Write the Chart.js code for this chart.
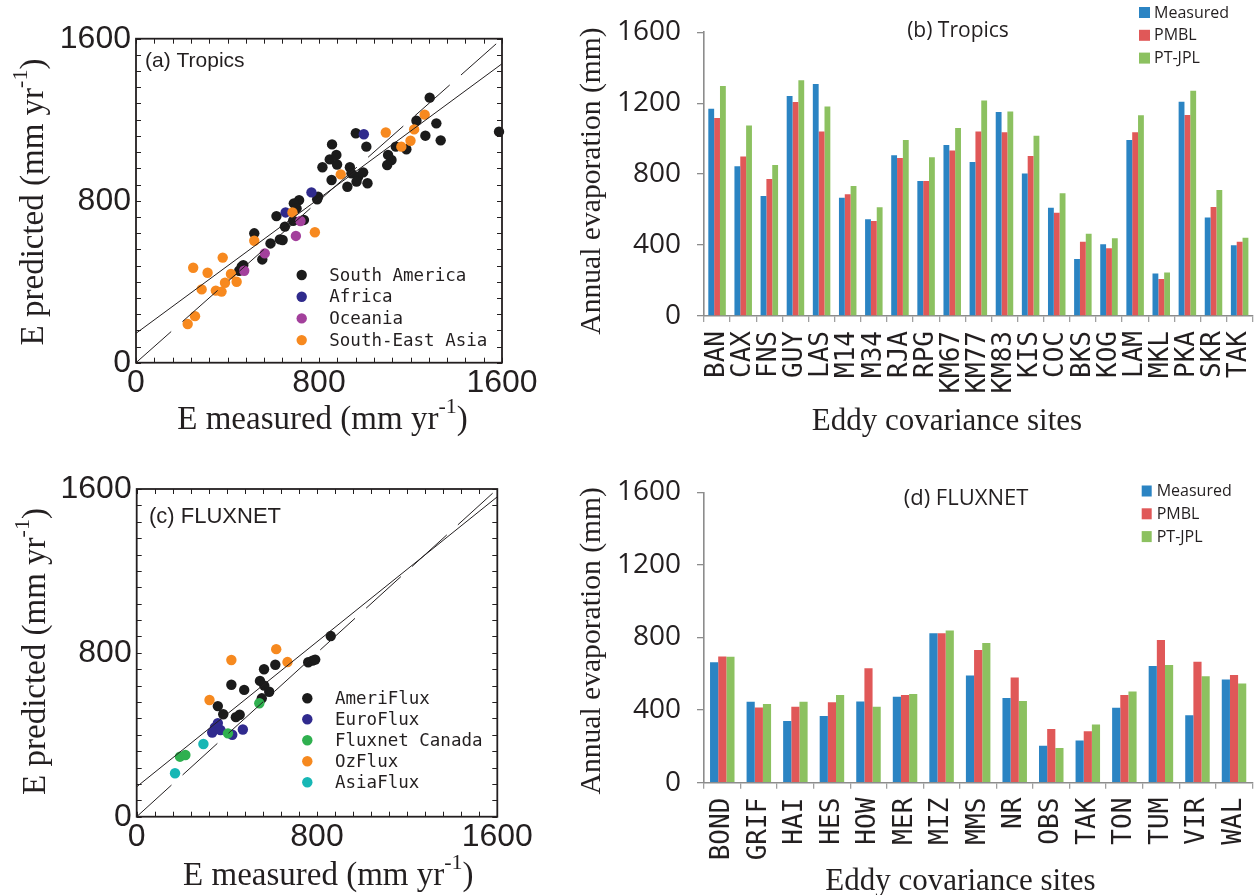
<!DOCTYPE html>
<html>
<head>
<meta charset="utf-8">
<title>Evaporation: measured vs predicted</title>
<script src="https://cdn.jsdelivr.net/npm/chart.js@4.4.1/dist/chart.umd.min.js"></script>
<style>
  html, body { margin: 0; padding: 0; background: #ffffff; }
  #wrap { position: relative; width: 1259px; height: 895px; overflow: hidden; }
  #wrap canvas { position: absolute; }
</style>
</head>
<body>
<div id="wrap">
  <canvas id="panelA" width="560" height="450" style="left:0px;top:0px"></canvas>
  <canvas id="panelB" width="699" height="450" style="left:560px;top:0px"></canvas>
  <canvas id="panelC" width="560" height="445" style="left:0px;top:450px"></canvas>
  <canvas id="panelD" width="699" height="445" style="left:560px;top:450px"></canvas>
</div>
<script>
// ---------- (a) Tropics: [E measured, E predicted] in mm/yr ----------
const southAmerica = [
  [1284,1309],[1226,1195],[1313,1182],[1265,1121],[1332,1098],[1587,1141],[961,1133],
  [1007,1067],[857,1078],[847,1004],[876,1026],[879,979],[815,965],[855,902],[935,965],
  [942,935],[971,918],[993,940],[964,894],[924,869],[1012,886],[1102,1026],[1117,1001],
  [1098,976],[1136,1067],[1182,1054],[796,820],[792,807],[713,803],[690,787],[702,762],
  [614,724],[651,672],[687,701],[734,705],[517,639],[588,589],[629,609],[641,606],
  [552,510],[469,482],[462,474],[451,454]
];
const africa = [[996,1128],[767,841],[654,742]];
const oceania = [[719,700],[699,626],[563,540],[473,454]];
const southEastAsia = [
  [1262,1225],[1216,1152],[1200,1096],[1160,1067],[1092,1137],[895,930],[684,742],
  [782,644],[517,602],[379,519],[250,469],[313,444],[415,438],[440,400],[389,395],
  [287,362],[349,356],[374,351],[258,230],[226,191]
];
const tropicsFitIntercept = 145;
const tropicsFitSlope = 0.832;

// ---------- (c) FLUXNET: [E measured, E predicted] in mm/yr ----------
const ameriFlux = [
  [861,882],[761,754],[780,762],[792,767],[615,742],[565,720],[547,663],[566,640],
  [588,610],[555,578],[420,644],[477,619],[360,540],[384,500],[440,486],[457,498]
];
const euroFlux = [[360,457],[347,436],[335,411],[372,423],[424,400],[471,426]];
const fluxnetCanada = [[544,554],[405,407],[192,293],[216,301]];
const ozFlux = [[619,818],[669,755],[420,765],[323,570]];
const asiaFlux = [[296,355],[170,212]];
const fluxnetFitIntercept = 146;
const fluxnetFitSlope = 0.885;

// ---------- (b) Tropics: annual evaporation per site (mm) ----------
const tropicsSites = ['BAN','CAX','FNS','GUY','LAS','M14','M34','RJA','RPG','KM67','KM77',
  'KM83','KIS','COC','BKS','KOG','LAM','MKL','PKA','SKR','TAK'];
const tropicsMeasured = [1169,844,677,1241,1308,667,545,906,761,964,869,1150,803,611,321,404,993,239,1209,556,399];
const tropicsPMBL     = [1117,900,773,1207,1040,686,536,891,761,934,1041,1036,902,583,419,382,1036,209,1134,615,419];
const tropicsPTJPL    = [1297,1075,852,1329,1181,733,613,993,895,1060,1216,1154,1017,692,464,438,1132,246,1271,711,442];

// ---------- (d) FLUXNET: annual evaporation per site (mm) ----------
const fluxnetSites = ['BOND','GRIF','HAI','HES','HOW','MER','MIZ','MMS','NR','OBS','TAK','TON','TUM','VIR','WAL'];
const fluxnetMeasured = [663,446,340,367,448,474,823,590,467,204,233,413,643,371,569];
const fluxnetPMBL     = [696,415,419,443,630,483,823,731,580,296,283,483,786,667,593];
const fluxnetPTJPL    = [694,434,446,483,419,489,839,770,450,191,321,503,648,586,547];

const seriesNames = ['Measured', 'PMBL', 'PT-JPL'];
const axisMax = 1600;

// ---------- styling ----------
const SERIF = '"Liberation Serif", "Times New Roman", serif';
const SANS = '"Liberation Sans", Arial, sans-serif';
const OPEN = '"Open Sans", "Noto Sans", sans-serif';
const MONO = '"DejaVu Sans Mono", monospace';
const INK = '#231f20';
const AXIS_GREY = '#8c8c8c';
const BAR_COLORS = ['#2b84c3', '#e05858', '#8cc160'];

Chart.defaults.animation = false;
Chart.defaults.events = [];
Chart.defaults.devicePixelRatio = 1;

const toPoints = arr => arr.map(([x, y]) => ({ x, y }));
const plainNumber = v => String(v);

// text helper: optional superscript part followed by a tail, optionally rotated
function drawText(ctx, t) {
  ctx.save();
  ctx.translate(t.x, t.y);
  if (t.rotate) ctx.rotate(-Math.PI / 2);
  ctx.fillStyle = t.color || INK;
  ctx.textBaseline = t.baseline || 'alphabetic';
  ctx.textAlign = 'left';
  const main = `${t.size}px ${t.family}`;
  const supFont = `${Math.round(t.size * 0.66)}px ${t.family}`;
  ctx.font = main;
  const w1 = ctx.measureText(t.text).width;
  let w2 = 0, w3 = 0;
  if (t.sup) {
    ctx.font = supFont; w2 = ctx.measureText(t.sup).width;
    ctx.font = main; w3 = ctx.measureText(t.tail || '').width;
  }
  const total = w1 + w2 + w3;
  let x = t.align === 'left' ? 0 : -total / 2;
  ctx.font = main;
  ctx.fillText(t.text, x, 0);
  x += w1;
  if (t.sup) {
    ctx.font = supFont;
    ctx.fillText(t.sup, x, -t.size * 0.48);
    x += w2;
    ctx.font = main;
    ctx.fillText(t.tail || '', x, 0);
  }
  ctx.restore();
}

// frame with inward minor ticks, in-plot legends and titles
const decor = {
  id: 'decor',
  afterDraw(chart, args, o) {
    const ctx = chart.ctx;
    const a = chart.chartArea;
    if (o.frame) {
      const xs = chart.scales.x, ys = chart.scales.y;
      ctx.save();
      ctx.strokeStyle = INK;
      ctx.lineWidth = 1;
      ctx.beginPath();
      for (let v = 0; v <= axisMax; v += o.frame.minorStep) {
        const px = Math.round(xs.getPixelForValue(v)) + 0.5;
        const py = Math.round(ys.getPixelForValue(v)) + 0.5;
        ctx.moveTo(px, a.bottom); ctx.lineTo(px, a.bottom - o.frame.len);
        ctx.moveTo(px, a.top); ctx.lineTo(px, a.top + o.frame.len);
        ctx.moveTo(a.left, py); ctx.lineTo(a.left + o.frame.len, py);
        ctx.moveTo(a.right, py); ctx.lineTo(a.right - o.frame.len, py);
      }
      ctx.stroke();
      ctx.lineWidth = 1.8;
      ctx.strokeRect(a.left, a.top, a.right - a.left, a.bottom - a.top);
      ctx.restore();
    }
    if (o.legend) {
      const L = o.legend;
      ctx.save();
      L.items.forEach((it, i) => {
        const cy = L.y + i * L.step;
        ctx.fillStyle = it.color;
        if (L.marker === 'circle') {
          ctx.beginPath();
          ctx.arc(L.x, cy, L.r, 0, Math.PI * 2);
          ctx.fill();
        } else {
          ctx.fillRect(L.x, cy - L.h / 2, L.w, L.h);
        }
        ctx.fillStyle = INK;
        ctx.font = `${L.size}px ${L.family}`;
        ctx.textBaseline = 'middle';
        ctx.textAlign = 'left';
        ctx.fillText(it.label, L.textX, cy + (L.dy || 0));
      });
      ctx.restore();
    }
    (o.texts || []).forEach(t => drawText(ctx, t));
  }
};

function fixedBox(size, dim) {
  return s => {
    s[dim] = size;
    s.paddingLeft = 0; s.paddingRight = 0;
    s.paddingTop = 0; s.paddingBottom = 0;
  };
}

function scatterChart(id, groups, fit, geom, extras) {
  const pointSets = groups.map(g => ({
    label: g.label,
    data: toPoints(g.data),
    backgroundColor: g.color,
    borderColor: g.color,
    pointRadius: 5.2,
    pointBorderWidth: 0,
    showLine: false,
    clip: false
  }));
  // first dataset is painted last, so lines go first and the later groups lie over earlier ones
  const lines = [
    {
      label: 'fit',
      data: [{ x: 0, y: fit.intercept }, { x: axisMax, y: fit.intercept + fit.slope * axisMax }],
      showLine: true, pointRadius: 0, borderColor: INK, borderWidth: 1, fill: false
    },
    {
      label: '1:1',
      data: [{ x: 0, y: 0 }, { x: axisMax, y: axisMax }],
      showLine: true, pointRadius: 0, borderColor: INK, borderWidth: 1, borderDash: [47, 15], fill: false
    }
  ];
  return new Chart(document.getElementById(id), {
    type: 'scatter',
    data: { datasets: lines.concat(pointSets.slice().reverse()) },
    options: {
      responsive: false,
      maintainAspectRatio: false,
      layout: { padding: { left: 0, top: geom.top, right: geom.right, bottom: 0 } },
      scales: {
        x: {
          type: 'linear', min: 0, max: axisMax,
          grid: { display: false, drawTicks: false }, border: { display: false },
          ticks: { stepSize: 800, font: { family: SANS, size: 32 }, color: INK, padding: geom.xPad,
                   callback: plainNumber },
          afterFit: fixedBox(geom.xHeight, 'height')
        },
        y: {
          type: 'linear', min: 0, max: axisMax,
          grid: { display: false, drawTicks: false }, border: { display: false },
          ticks: { stepSize: 800, font: { family: SANS, size: 32 }, color: INK, padding: 5,
                   callback: plainNumber },
          afterFit: fixedBox(geom.yWidth, 'width')
        }
      },
      plugins: {
        legend: { display: false },
        tooltip: { enabled: false },
        decor: Object.assign({
          frame: { minorStep: 80, len: 5 },
          legend: {
            marker: 'circle', r: 5.2, x: geom.legendX, y: geom.legendY, step: geom.legendStep,
            textX: geom.legendTextX, size: 17.5, family: MONO, dy: 1,
            items: groups.map(g => ({ label: g.label, color: g.color }))
          }
        }, extras)
      }
    },
    plugins: [decor]
  });
}

function barChart(id, sites, values, geom, extras) {
  return new Chart(document.getElementById(id), {
    type: 'bar',
    data: {
      labels: sites,
      datasets: values.map((v, i) => ({
        label: seriesNames[i],
        data: v,
        backgroundColor: BAR_COLORS[i],
        borderWidth: 0,
        barPercentage: 1,
        categoryPercentage: 0.67
      }))
    },
    options: {
      responsive: false,
      maintainAspectRatio: false,
      layout: { padding: { left: 0, top: geom.top, right: geom.right, bottom: 0 } },
      scales: {
        x: {
          grid: { display: true, drawOnChartArea: false, drawTicks: true, tickLength: 6,
                  color: '#a0a0a0', lineWidth: 1.3, offset: true },
          border: { display: true, color: AXIS_GREY, width: 1.6 },
          ticks: { font: { family: MONO, size: 26 }, color: INK, minRotation: 90, maxRotation: 90,
                   autoSkip: false, padding: 9 },
          afterFit: fixedBox(geom.xHeight, 'height')
        },
        y: {
          min: 0, max: axisMax,
          grid: { display: true, drawOnChartArea: false, drawTicks: true, tickLength: 7,
                  color: AXIS_GREY, lineWidth: 1.3 },
          border: { display: true, color: AXIS_GREY, width: 1.6 },
          ticks: { stepSize: 400, font: { family: OPEN, size: 28 }, color: INK, padding: 16,
                   callback: plainNumber },
          afterFit: fixedBox(geom.yWidth, 'width')
        }
      },
      plugins: {
        legend: { display: false },
        tooltip: { enabled: false },
        decor: Object.assign({
          legend: {
            marker: 'square', x: geom.legendX, y: geom.legendY, step: 22.8, w: geom.legendW, h: 11,
            textX: geom.legendTextX, size: 16, family: OPEN, dy: 0.5,
            items: seriesNames.map((n, i) => ({ label: n, color: BAR_COLORS[i] }))
          }
        }, extras)
      }
    },
    plugins: [decor]
  });
}

// (a) Tropics scatter
scatterChart('panelA',
  [
    { label: 'South America', data: southAmerica, color: '#1b1b1b' },
    { label: 'Africa', data: africa, color: '#2f2a8c' },
    { label: 'Oceania', data: oceania, color: '#a3409c' },
    { label: 'South-East Asia', data: southEastAsia, color: '#f7891f' }
  ],
  { intercept: tropicsFitIntercept, slope: tropicsFitSlope },
  { top: 38.7, right: 58, xHeight: 87.3, yWidth: 136, xPad: 1,
    legendX: 301.7, legendY: 275, legendStep: 21.7, legendTextX: 329.3 },
  { texts: [
      { text: '(a) Tropics', x: 145, y: 66.7, size: 21, family: SANS, align: 'left' },
      { text: 'E measured (mm yr', sup: '-1', tail: ')', x: 322.5, y: 429, size: 33, family: SERIF },
      { text: 'E predicted (mm yr', sup: '-1', tail: ')', x: 43.3, y: 202, size: 33, family: SERIF, rotate: true }
    ] }
);

// (b) Tropics bars
barChart('panelB', tropicsSites, [tropicsMeasured, tropicsPMBL, tropicsPTJPL],
  { top: 32.3, right: 6.3, xHeight: 134, yWidth: 144,
    legendX: 579, legendY: 12.5, legendW: 11, legendTextX: 594 },
  { texts: [
      { text: '(b) Tropics', x: 398, y: 36.7, size: 21, family: OPEN },
      { text: 'Eddy covariance sites', x: 387, y: 430, size: 31, family: SERIF },
      { text: 'Annual evaporation (mm)', x: 40, y: 181, size: 29.6, family: SERIF, rotate: true }
    ] }
);

// (c) FLUXNET scatter
scatterChart('panelC',
  [
    { label: 'AmeriFlux', data: ameriFlux, color: '#1b1b1b' },
    { label: 'EuroFlux', data: euroFlux, color: '#302a8e' },
    { label: 'Fluxnet Canada', data: fluxnetCanada, color: '#2fb04f' },
    { label: 'OzFlux', data: ozFlux, color: '#f6891f' },
    { label: 'AsiaFlux', data: asiaFlux, color: '#17b7b5' }
  ],
  { intercept: fluxnetFitIntercept, slope: fluxnetFitSlope },
  { top: 39, right: 62.7, xHeight: 78.3, yWidth: 136.7, xPad: 1,
    legendX: 307.3, legendY: 248.3, legendStep: 21, legendTextX: 335 },
  { texts: [
      { text: '(c) FLUXNET', x: 149, y: 72.7, size: 22, family: SANS, align: 'left' },
      { text: 'E measured (mm yr', sup: '-1', tail: ')', x: 328.3, y: 435, size: 33, family: SERIF },
      { text: 'E predicted (mm yr', sup: '-1', tail: ')', x: 45, y: 201.5, size: 33, family: SERIF, rotate: true }
    ] }
);

// (d) FLUXNET bars
barChart('panelD', fluxnetSites, [fluxnetMeasured, fluxnetPMBL, fluxnetPTJPL],
  { top: 42.3, right: 6.7, xHeight: 112.3, yWidth: 144,
    legendX: 581.7, legendY: 41, legendW: 10, legendTextX: 596.7 },
  { texts: [
      { text: '(d) FLUXNET', x: 406, y: 55, size: 22, family: OPEN },
      { text: 'Eddy covariance sites', x: 400.5, y: 440, size: 31, family: SERIF },
      { text: 'Annual evaporation (mm)', x: 40, y: 190.8, size: 29.6, family: SERIF, rotate: true }
    ] }
);
</script>
</body>
</html>
